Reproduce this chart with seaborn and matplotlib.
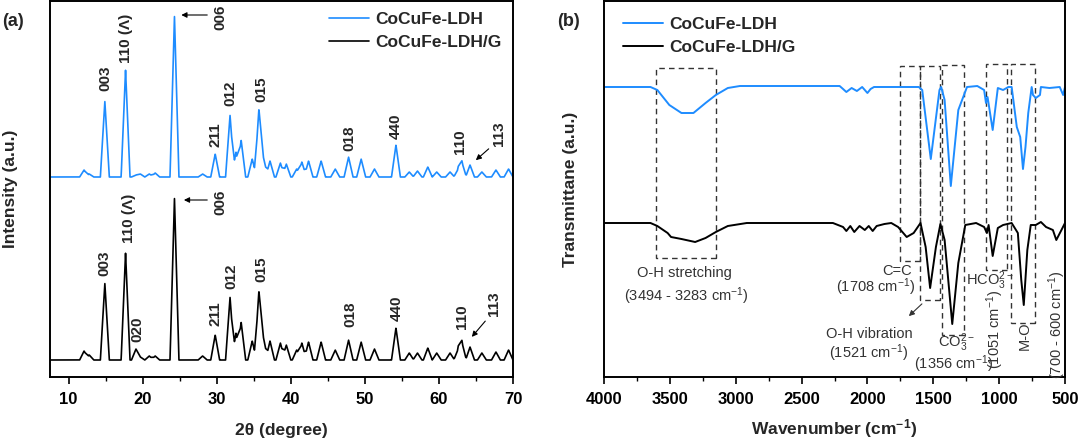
import numpy as np
import pandas as pd
import matplotlib
matplotlib.use('Agg')
import matplotlib.pyplot as plt
import seaborn as sns
from matplotlib.patches import Rectangle
from matplotlib.ticker import MultipleLocator

# ---------------- data: (a) XRD peak table (2theta, heights in a.u.) ----------------
xrd_peak_2theta = [12.1, 12.8, 14.9, 17.7, 19.1, 19.7, 20.9, 21.7, 24.3, 28.1,
                   29.8, 31.8, 32.6, 33.3, 34.8, 35.7, 36.3, 37.2, 38.6, 39.4,
                   40.8, 41.5, 42.4, 44.1, 46.0, 47.8, 49.5, 51.3, 54.2, 56.0,
                   57.1, 58.5, 59.7, 61.5, 62.6, 63.1, 64.2, 65.8, 67.7, 69.4]
ldh_xrd_height = [7, 3, 76, 107, 2, 3, 3, 4, 161, 3,
                  23, 62, 25, 37, 18, 68, 20, 16, 14, 13,
                  8, 15, 16, 16, 8, 20, 18, 8, 32, 5,
                  6, 10, 5, 5, 8, 15, 12, 5, 7, 8]
ldhg_xrd_height = [9, 5, 77, 107, 11, 3, 4, 4, 162, 4,
                   25, 63, 27, 38, 19, 69, 23, 19, 17, 15,
                   10, 17, 18, 18, 10, 20, 18, 11, 32, 7,
                   7, 12, 7, 7, 11, 18, 13, 7, 8, 10]
ldh_xrd_base = 200
ldhg_xrd_base = 17

# peak labels: (text, 2theta, y of label bottom)
ldh_xrd_labels = [('003', 15.0, 286), ('110 (\u039b)', 17.8, 314), ('211', 29.8, 230),
                  ('012', 31.8, 271), ('015', 36.0, 275), ('018', 47.9, 226),
                  ('440', 54.2, 238), ('110', 62.9, 223), ('113', 68.1, 231)]
ldhg_xrd_labels = [('003', 14.9, 101), ('110 (\u039b)', 18.1, 134), ('020', 19.3, 35),
                   ('211', 29.9, 51), ('012', 31.95, 88), ('015', 36.1, 95),
                   ('018', 48.0, 50), ('440', 54.3, 56), ('110', 63.1, 48), ('113', 67.4, 61)]

# ---------------- data: (b) FTIR traces (wavenumber, transmittance a.u.) ----------------
ldh_ir_wn = [4000, 3647, 3595, 3504, 3412, 3321, 3229, 3151, 3060, 2968, 2500, 2211,
             2185, 2160, 2120, 2080, 2040, 2000, 1976, 1950, 1900, 1650, 1610,
             1584, 1519, 1453, 1440, 1414, 1367, 1310, 1244, 1166, 1114, 1100, 1088,
             1049, 1010, 970, 930, 905, 866, 840, 819, 800, 779, 753, 743, 722, 690,
             683, 618, 540, 514, 500]
ldh_ir_t = [290, 290, 287, 272, 264, 264, 274, 282, 289, 291, 291, 291,
            288, 285, 289, 286, 290, 284, 288, 290, 290, 290, 290,
            287, 218, 287, 290, 277, 191, 267, 290, 291, 287, 274, 280,
            247, 289, 287, 290, 290, 250, 240, 208, 230, 264, 290, 282, 279, 282,
            290, 289, 290, 282, 290]
ldhg_ir_wn = [4000, 3647, 3595, 3517, 3491, 3412, 3308, 3229, 3151, 3060, 2916, 2262,
              2185, 2160, 2130, 2100, 2060, 2020, 1990, 1960, 1930, 1871, 1819, 1767,
              1702, 1649, 1597, 1558, 1524, 1480, 1446, 1414, 1356, 1310, 1257, 1175,
              1114, 1093, 1080, 1049, 1010, 970, 905, 858, 832, 813, 786, 760, 722,
              683, 644, 592, 566, 527, 500]
ldhg_ir_t = [154, 154, 151, 144, 140, 138, 135, 139, 145, 151, 154, 154,
             150, 146, 151, 145, 151, 147, 151, 146, 151, 153, 154, 150,
             140, 144, 154, 130, 89, 130, 153, 137, 53, 114, 152, 154,
             150, 144, 152, 121, 149, 152, 154, 144, 97, 72, 127, 152, 152,
             155, 150, 147, 137, 147, 154]

# dashed boxes: (wn_high, wn_low, y_bottom, y_top)
ir_boxes = [(3608, 3151, 119, 309), (1753, 1601, 116, 311), (1601, 1446, 77, 311),
            (1436, 1270, 42, 312), (1100, 943, 107, 313), (912, 728, 54, 313)]

LDH_BLUE = '#1e8cff'
FS = 12

sns.set_style('ticks')
plt.rcParams['font.family'] = ['Liberation Sans', 'DejaVu Sans']
plt.rcParams['mathtext.fontset'] = 'custom'
plt.rcParams['mathtext.rm'] = 'Liberation Sans'
plt.rcParams['mathtext.it'] = 'Liberation Sans:italic'
plt.rcParams['mathtext.bf'] = 'Liberation Sans:bold'

fig = plt.figure(figsize=(10.8, 4.42), dpi=100)
ax1 = fig.add_axes([50 / 1080, 65 / 442, 463 / 1080, 376 / 442])
ax2 = fig.add_axes([604 / 1080, 65 / 442, 461 / 1080, 376 / 442])

# ---------- (a) XRD ----------
tt = np.linspace(7.5, 70, 3200)
hw = 0.6


def xrd_trace(heights, base):
    y = np.full_like(tt, float(base))
    for p, h in zip(xrd_peak_2theta, heights):
        y += h * np.clip(1 - np.abs(tt - p) / hw, 0, None)
    return y


xrd = pd.DataFrame({'2theta': tt,
                    'ldh': xrd_trace(ldh_xrd_height, ldh_xrd_base),
                    'ldhg': xrd_trace(ldhg_xrd_height, ldhg_xrd_base)})
sns.lineplot(data=xrd, x='2theta', y='ldh', ax=ax1, color=LDH_BLUE, lw=1.2, label='CoCuFe-LDH')
sns.lineplot(data=xrd, x='2theta', y='ldhg', ax=ax1, color='black', lw=1.2, label='CoCuFe-LDH/G')

for txt, x, y in ldh_xrd_labels + ldhg_xrd_labels:
    ax1.text(x, y, txt, rotation=90, ha='center', va='bottom', fontsize=11, fontweight='bold')

# 006 arrows
for ytxt, yarr, xend in [(360, 362, 24.85), (175, 177, 25.2)]:
    ax1.text(30.5, ytxt, '006', rotation=90, ha='center', va='center', fontsize=11, fontweight='bold')
    ax1.annotate('', xy=(xend, yarr), xytext=(29.1, yarr),
                 arrowprops=dict(arrowstyle='-|>', color='black', lw=0.8, mutation_scale=8))
# 113 arrows
for (x0, y0), (x1, y1) in [((67.0, 230), (64.7, 215)), ((66.5, 58), (64.2, 38))]:
    ax1.annotate('', xy=(x1, y1), xytext=(x0, y0),
                 arrowprops=dict(arrowstyle='-|>', color='black', lw=0.8, mutation_scale=8))

ax1.set_xlim(7.5, 70)
ax1.set_ylim(0, 376)
ax1.set_yticks([])
ax1.xaxis.set_major_locator(MultipleLocator(10))
ax1.xaxis.set_minor_locator(MultipleLocator(5))
ax1.set_xlabel('2\u03b8 (degree)', fontsize=12.5, fontweight='bold', labelpad=11)
ax1.set_ylabel('Intensity (a.u.)', fontsize=12.5, fontweight='bold')
ax1.yaxis.set_label_coords(-0.069, 0.5)
ax1.legend(loc='upper left', bbox_to_anchor=((329 - 50) / 463, 0.972), frameon=False,
           borderpad=0, borderaxespad=0, handlelength=2.3, handletextpad=0.35,
           labelspacing=0.45, prop={'weight': 'bold', 'size': 12.5})

# ---------- (b) FTIR ----------
ir1 = pd.DataFrame({'wn': ldh_ir_wn, 't': ldh_ir_t})
ir2 = pd.DataFrame({'wn': ldhg_ir_wn, 't': ldhg_ir_t})
sns.lineplot(data=ir1, x='wn', y='t', ax=ax2, color=LDH_BLUE, lw=1.4, label='CoCuFe-LDH')
sns.lineplot(data=ir2, x='wn', y='t', ax=ax2, color='black', lw=1.4, label='CoCuFe-LDH/G')

for xh, xl, yb, yt in ir_boxes:
    ax2.add_patch(Rectangle((xl, yb), xh - xl, yt - yb, fill=False, ls=(0, (4, 3)),
                            lw=1.0, ec='#333333'))

ann = dict(fontsize=10.5, color='#333333', ha='center', va='center')
ax2.text(3386, 104, 'O-H stretching', **ann)
ax2.text(3373, 81, '(3494 - 3283 cm$^{-1}$)', **ann)
ax2.text(1772, 106, 'C=C', **ann)
ax2.text(1937, 90, '(1708 cm$^{-1}$)', **ann)
ax2.text(1989, 43, 'O-H vibration', **ann)
ax2.text(1989, 24, '(1521 cm$^{-1}$)', **ann)
ax2.text(1323, 34, 'CO$_3^{2-}$', **ann)
ax2.text(1349, 13, '(1356 cm$^{-1}$)', **ann)
ax2.text(1070, 96, 'HCO$_3^{2-}$', **ann)
ax2.text(1031, 48, '(1051 cm$^{-1}$)', rotation=90, **ann)
ax2.text(804, 41, 'M-O', rotation=90, **ann)
ax2.text(561, 52, '(700 - 600 cm$^{-1}$)', rotation=90, **ann)
ax2.annotate('', xy=(1701, 59), xytext=(1571, 75),
             arrowprops=dict(arrowstyle='-|>', color='#333333', lw=0.8, mutation_scale=8))

ax2.set_xlim(4000, 500)
ax2.set_ylim(0, 376)
ax2.set_yticks([])
ax2.xaxis.set_major_locator(MultipleLocator(500))
ax2.xaxis.set_minor_locator(MultipleLocator(250))
ax2.set_xlabel('Wavenumber (cm$^{\\mathbf{-1}}$)', fontsize=12.5, fontweight='bold', labelpad=7)
ax2.set_ylabel('Transmittane (a.u.)', fontsize=12.5, fontweight='bold')
ax2.yaxis.set_label_coords(-0.056, 0.5)
ax2.legend(loc='upper left', bbox_to_anchor=((623 - 604) / 461, 0.958), frameon=False,
           borderpad=0, borderaxespad=0, handlelength=2.3, handletextpad=0.35,
           labelspacing=0.45, prop={'weight': 'bold', 'size': 12.5})

for ax in (ax1, ax2):
    for s in ax.spines.values():
        s.set_visible(True)
        s.set_color('black')
        s.set_linewidth(1.4)
    ax.tick_params(axis='x', which='major', direction='out', length=5, width=1.2,
                   colors='black', labelsize=FS, pad=6)
    ax.tick_params(axis='x', which='minor', direction='out', length=3, width=1.0, colors='black')
    for lbl in ax.get_xticklabels():
        lbl.set_fontweight('bold')

fig.text(13 / 1080, 1 - 22 / 442, '(a)', fontsize=13, fontweight='bold', ha='center', va='center')
fig.text(568 / 1080, 1 - 21 / 442, '(b)', fontsize=13, fontweight='bold', ha='center', va='center')

fig.savefig('out.png', dpi=100)
